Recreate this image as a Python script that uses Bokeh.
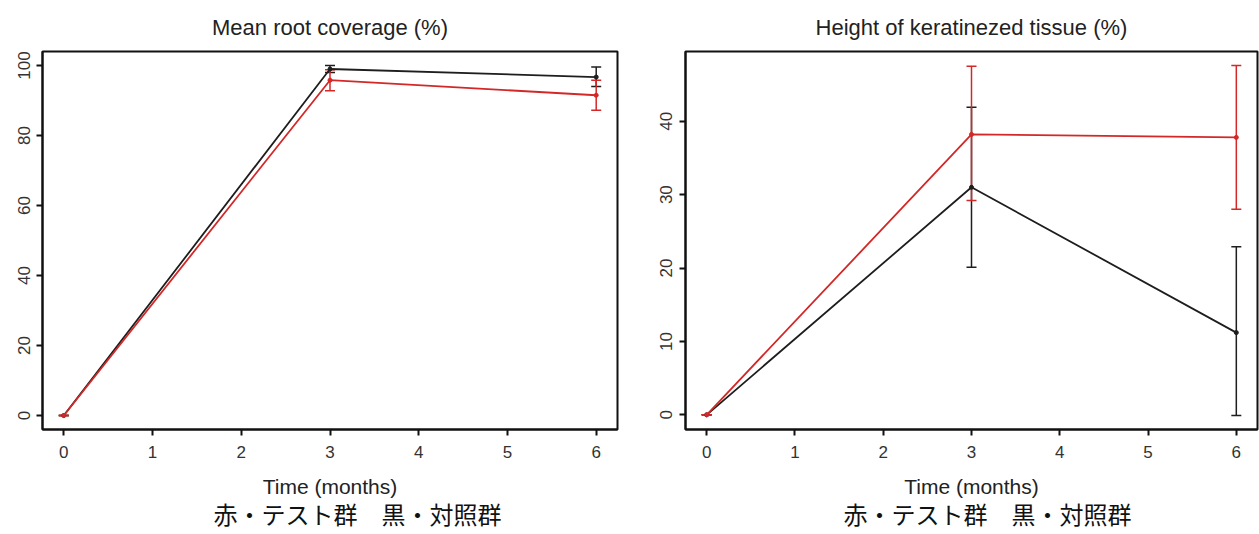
from bokeh.plotting import figure
from bokeh.layouts import row
from bokeh.models import (ColumnDataSource, Whisker, TeeHead, FixedTicker, Range1d, Title)
from bokeh.embed import file_html
from bokeh.resources import INLINE

# ---------------- data ----------------
months = [0, 3, 6]

# Mean root coverage (%)
root_control = [0.0, 99.0, 96.7]
root_control_lo = [0.0, 98.0, 94.0]
root_control_hi = [0.0, 100.0, 99.6]
root_test = [0.0, 95.8, 91.5]
root_test_lo = [0.0, 92.8, 87.2]
root_test_hi = [0.0, 98.8, 95.8]

# Height of keratinized tissue (%)
kt_control = [0.0, 31.0, 11.2]
kt_control_lo = [0.0, 20.1, -0.1]
kt_control_hi = [0.0, 41.9, 22.9]
kt_test = [0.0, 38.2, 37.8]
kt_test_lo = [0.0, 29.2, 28.0]
kt_test_hi = [0.0, 47.5, 47.6]

x_ticks = [0, 1, 2, 3, 4, 5, 6]
root_y_ticks = [0, 20, 40, 60, 80, 100]
kt_y_ticks = [0, 10, 20, 30, 40]

titles = ["Mean root coverage (%)", "Height of keratinezed tissue (%)"]
x_label = "Time (months)"
note = "赤・テスト群　黒・対照群"

BLACK = "#1e1e1e"
RED = "#d42828"
FONT = "Liberation Sans"


def make_panel(title, width, bl, br, yr, yticks, series, note_offset):
    p = figure(width=width, height=534, output_backend="svg", toolbar_location=None,
               x_range=Range1d(-0.24, 6.24), y_range=Range1d(*yr),
               min_border_left=bl, min_border_right=br,
               min_border_top=50, min_border_bottom=105)
    p.title = Title(text=title, align="center", text_font=FONT, text_font_size="22px",
                    text_font_style="normal", text_color="#222222", standoff=24)
    p.grid.visible = False
    p.outline_line_color = "#111111"
    p.outline_line_width = 2
    p.outline_line_alpha = 1
    p.background_fill_color = "white"
    p.border_fill_color = "white"
    for ax in (p.xaxis[0], p.yaxis[0]):
        ax.axis_line_color = "#111111"
        ax.axis_line_width = 2
        ax.major_tick_line_color = "#111111"
        ax.major_tick_line_width = 2
        ax.major_tick_out = 6
        ax.major_tick_in = 0
        ax.minor_tick_line_color = None
        ax.major_label_text_font = FONT
        ax.major_label_text_font_size = "17px"
        ax.major_label_text_color = "#333333"
    p.xaxis[0].ticker = FixedTicker(ticks=x_ticks)
    p.yaxis[0].ticker = FixedTicker(ticks=yticks)
    p.yaxis[0].major_label_orientation = "vertical"
    p.yaxis[0].major_label_standoff = 7
    p.xaxis[0].major_label_standoff = 10
    p.xaxis[0].axis_label = x_label
    p.xaxis[0].axis_label_text_font = FONT
    p.xaxis[0].axis_label_text_font_size = "21px"
    p.xaxis[0].axis_label_text_font_style = "normal"
    p.xaxis[0].axis_label_text_color = "#222222"
    p.xaxis[0].axis_label_standoff = 14

    for mean, lo, hi, color in series:
        src = ColumnDataSource(dict(x=months, y=mean, lo=lo, hi=hi))
        p.line("x", "y", source=src, line_color=color, line_width=1.8)
        w = Whisker(source=src, base="x", upper="hi", lower="lo",
                    line_color=color, line_width=1.5,
                    upper_head=TeeHead(size=10, line_color=color, line_width=1.5),
                    lower_head=TeeHead(size=10, line_color=color, line_width=1.5))
        p.add_layout(w)
        p.scatter("x", "y", source=src, size=4, color=color)

    p.add_layout(Title(text=note, align="left", offset=note_offset, standoff=-14,
                       text_font="Noto Sans CJK JP", text_font_size="24px",
                       text_font_style="normal", text_color="#111111"), "below")
    return p


p1 = make_panel(titles[0], 648, 42, 31, (-4.0, 104.0), root_y_ticks,
                [(root_control, root_control_lo, root_control_hi, BLACK),
                 (root_test, root_test_lo, root_test_hi, RED)], 171)
p2 = make_panel(titles[1], 611, 37, 2, (-2.0, 49.5), kt_y_ticks,
                [(kt_control, kt_control_lo, kt_control_hi, BLACK),
                 (kt_test, kt_test_lo, kt_test_hi, RED)], 158)

layout = row(p1, p2)
open("out.html", "w").write(file_html(layout, INLINE))
